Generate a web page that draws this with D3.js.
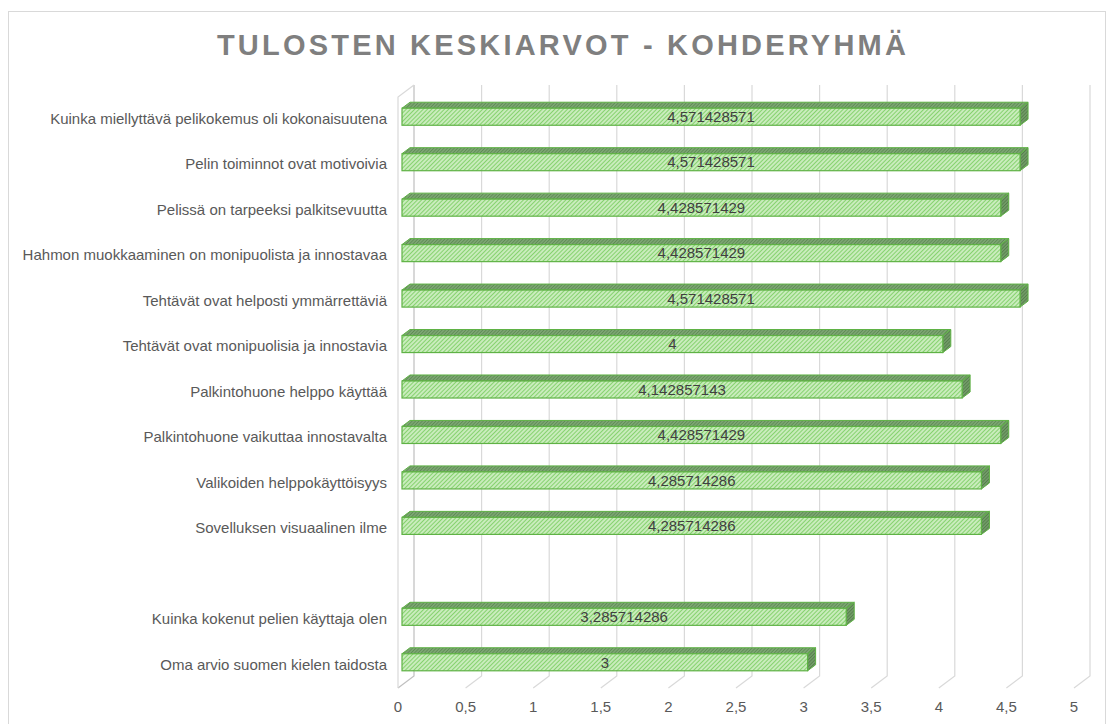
<!DOCTYPE html>
<html>
<head>
<meta charset="utf-8">
<script src="https://cdn.jsdelivr.net/npm/d3@7"></script>
<style>
  body { margin: 0; background: #fff; }
  text { font-family: "Liberation Sans", Arial, sans-serif; }
</style>
</head>
<body>
<div id="chart"></div>
<script>
const categories = [
  "Kuinka miellyttävä pelikokemus oli kokonaisuutena",
  "Pelin toiminnot ovat motivoivia",
  "Pelissä on tarpeeksi palkitsevuutta",
  "Hahmon muokkaaminen on monipuolista ja innostavaa",
  "Tehtävät ovat helposti ymmärrettäviä",
  "Tehtävät ovat monipuolisia ja innostavia",
  "Palkintohuone helppo käyttää",
  "Palkintohuone vaikuttaa innostavalta",
  "Valikoiden helppokäyttöisyys",
  "Sovelluksen visuaalinen ilme",
  "",
  "Kuinka kokenut pelien käyttaja olen",
  "Oma arvio suomen kielen taidosta"
];
const values = [
  4.571428571, 4.571428571, 4.428571429, 4.428571429, 4.571428571, 4,
  4.142857143, 4.428571429, 4.285714286, 4.285714286, null, 3.285714286, 3
];
const ticks = [0, 0.5, 1, 1.5, 2, 2.5, 3, 3.5, 4, 4.5, 5];
const title = "TULOSTEN KESKIARVOT - KOHDERYHMÄ";

const w = 1107, h = 724;
const depth = { dx: 16, dy: -12 };
const barFront = 0.25, barBack = 0.75;

const fi = d3.formatLocale({ decimal: ",", thousands: "\u00a0", grouping: [3], currency: ["", " €"] });
const fmt = fi.format(".10~g");

const svg = d3.select('#chart').append('svg')
  .attr('width', w)
  .attr('height', h);

// chart border
svg.append('rect')
  .attr('x', 8.5).attr('y', 11.5)
  .attr('width', 1097).attr('height', 730)
  .attr('fill', '#fff')
  .attr('stroke', '#d9d9d9');

const defs = svg.append('defs');
function hatch(id, bg, fg, size, sw) {
  const p = defs.append('pattern')
    .attr('id', id)
    .attr('patternUnits', 'userSpaceOnUse')
    .attr('width', size).attr('height', size)
    .attr('patternTransform', 'rotate(45)');
  p.append('rect').attr('width', size).attr('height', size).attr('fill', bg);
  p.append('line')
    .attr('x1', size / 2).attr('y1', 0)
    .attr('x2', size / 2).attr('y2', size)
    .attr('stroke', fg).attr('stroke-width', sw);
}
hatch('hFront', '#e0f5d6', '#86d26f', 3, 1.5);
hatch('hTop', '#86ad7c', '#5f8c55', 2.4, 1.2);
hatch('hSide', '#7aa370', '#557f4b', 2.4, 1.2);

svg.append('text')
  .attr('x', 563).attr('y', 55)
  .attr('text-anchor', 'middle')
  .attr('fill', '#7f7f7f')
  .style('font-size', '29px')
  .style('font-weight', 'bold')
  .style('letter-spacing', '3.2px')
  .text(title);

const x = d3.scaleLinear().domain([0, 5]).range([398, 1074]);
const y = d3.scaleBand()
  .domain(categories.map((d, i) => i))
  .range([97, 688]);

const yTop = y.range()[0], yBottom = y.range()[1];

// back wall gridlines + floor diagonals
const grid = svg.append('g');
grid.selectAll('path.grid')
  .data(ticks)
  .enter().append('path')
  .attr('fill', 'none')
  .attr('stroke', d => d === 0 ? '#bfbfbf' : '#d9d9d9')
  .attr('stroke-width', 1.2)
  .attr('d', d => {
    const bx = x(d) + depth.dx;
    return `M${bx},${yTop + depth.dy}V${yBottom + depth.dy}L${x(d)},${yBottom}`;
  });

// left wall front edge
grid.append('path')
  .attr('fill', 'none')
  .attr('stroke', '#d9d9d9')
  .attr('stroke-width', 1.2)
  .attr('d', `M${x(0) + depth.dx},${yTop + depth.dy}L${x(0)},${yTop}V${yBottom}`);

// axis labels
svg.append('g').selectAll('text')
  .data(ticks)
  .enter().append('text')
  .attr('x', d => x(d))
  .attr('y', 712)
  .attr('text-anchor', 'middle')
  .attr('fill', '#595959')
  .style('font-size', '15px')
  .text(d => fi.format("~g")(d));

// category labels
svg.append('g').selectAll('text')
  .data(categories)
  .enter().append('text')
  .attr('x', 387)
  .attr('y', (d, i) => y(i) + y.bandwidth() / 2 - 1)
  .attr('dy', '0.35em')
  .attr('text-anchor', 'end')
  .attr('fill', '#595959')
  .style('font-size', '15px')
  .text(d => d);

// bars
const barH = y.bandwidth() * 0.375;
const rows = values.map((v, i) => ({ v, i })).filter(d => d.v != null);
const fx = depth.dx * barFront, fy = depth.dy * barFront;
const bx = depth.dx * barBack, by = depth.dy * barBack;

const bars = svg.append('g').selectAll('g')
  .data(rows)
  .enter().append('g');

bars.each(function(d) {
  const g = d3.select(this);
  const x0 = x(0), x1 = x(d.v);
  const yc = y(d.i) + y.bandwidth() / 2;
  const yt = yc - barH / 2, yb = yc + barH / 2;
  g.append('path')
    .attr('fill', 'url(#hTop)')
    .attr('stroke', '#5fb245').attr('stroke-width', 1)
    .attr('d', `M${x0 + fx},${yt + fy}L${x1 + fx},${yt + fy}L${x1 + bx},${yt + by}L${x0 + bx},${yt + by}Z`);
  g.append('path')
    .attr('fill', 'url(#hSide)')
    .attr('stroke', '#5fb245').attr('stroke-width', 1)
    .attr('d', `M${x1 + fx},${yt + fy}L${x1 + bx},${yt + by}L${x1 + bx},${yb + by}L${x1 + fx},${yb + fy}Z`);
  g.append('rect')
    .attr('x', x0 + fx).attr('y', yt + fy)
    .attr('width', x1 - x0).attr('height', barH)
    .attr('fill', 'url(#hFront)')
    .attr('stroke', '#5fb245').attr('stroke-width', 1.2);
  g.append('text')
    .attr('x', (x0 + x1) / 2 + fx)
    .attr('y', yc + fy)
    .attr('dy', '0.35em')
    .attr('text-anchor', 'middle')
    .attr('fill', '#404040')
    .style('font-size', '15px')
    .text(fmt(d.v));
});
</script>
</body>
</html>
